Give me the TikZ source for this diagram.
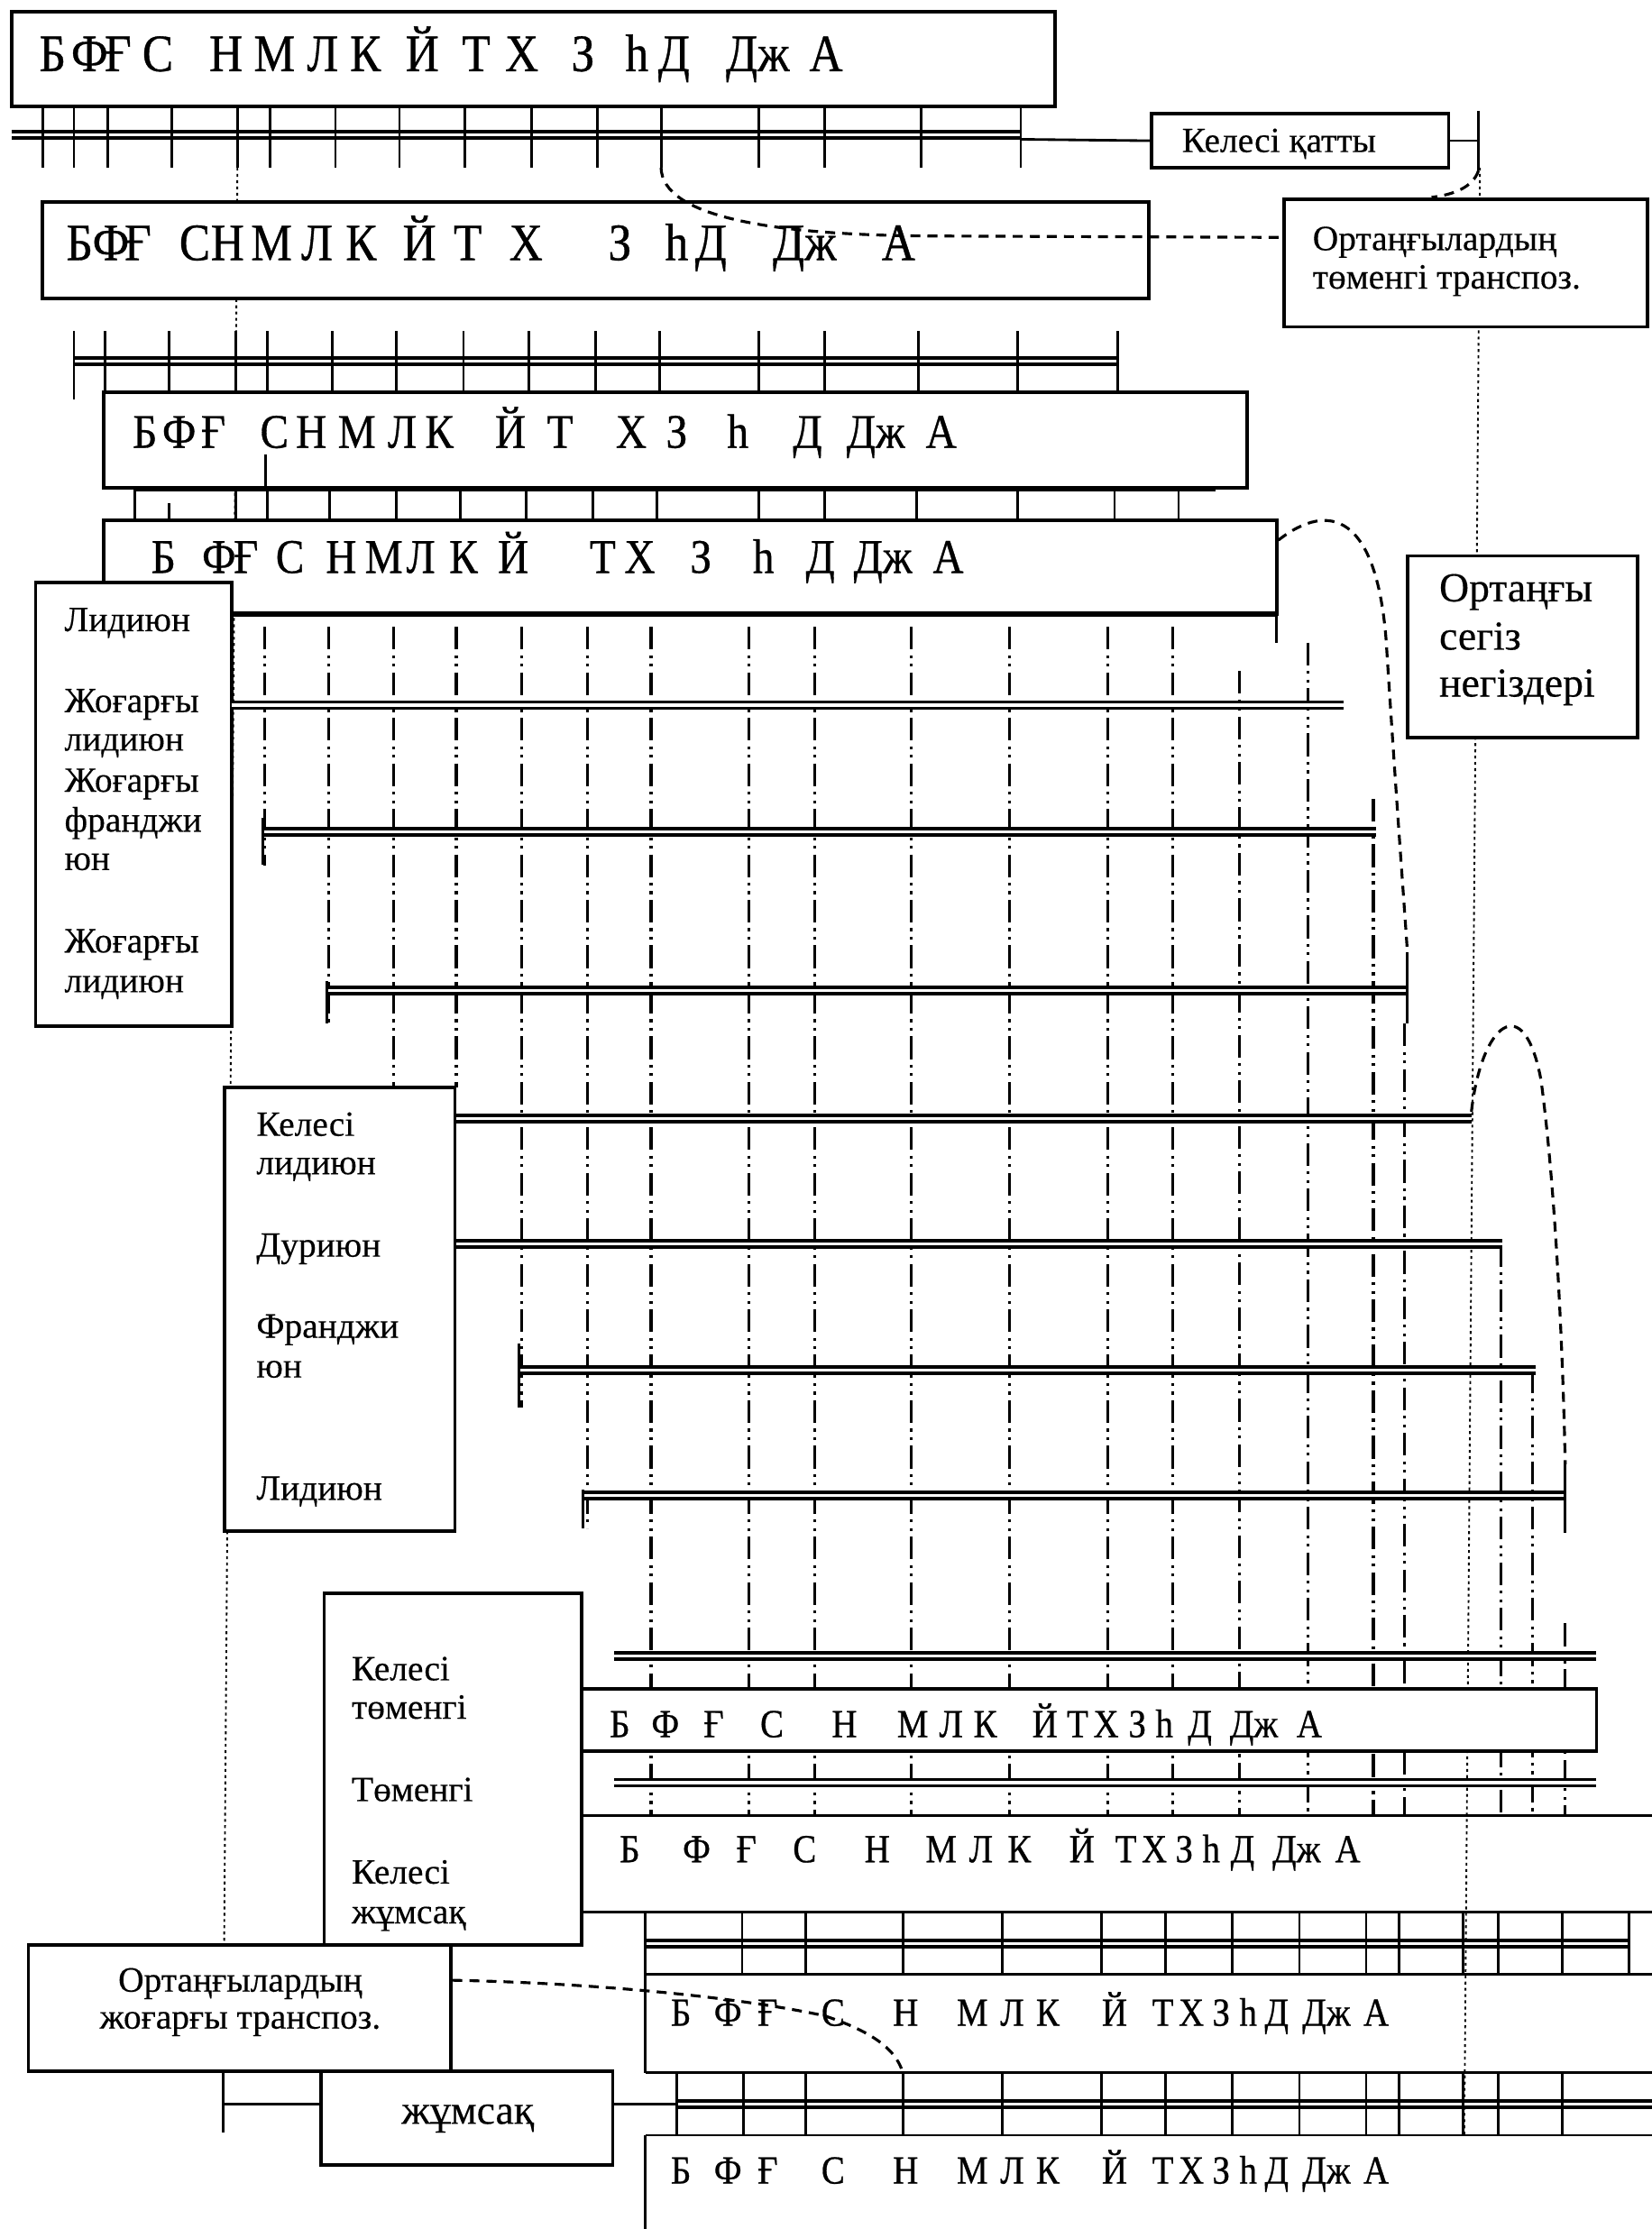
\documentclass[tikz,border=0pt]{standalone}
\usepackage{fontspec}
\setmainfont{Liberation Serif}[FakeBold=0.3]
\newfontfamily\rowfont[FakeStretch=0.88, FakeBold=0.6]{Liberation Serif}
\usetikzlibrary{fit}

\begin{document}
\begin{tikzpicture}[
    x=0.5pt, y=-0.5pt,
    box/.style={draw, line width=1.2pt, fill=white, inner sep=0pt},
    rail/.style={line width=1.2pt, double, double distance=1pt},
    tick/.style={line width=0.9pt},
    thickedge/.style={line width=2pt},
    column/.style={line width=1pt, dash pattern=on 8pt off 2pt on 1pt off 2pt on 1pt off 2pt},
    guide/.style={line width=0.6pt, dash pattern=on 1pt off 1.2pt},
    link/.style={line width=1pt, dash pattern=on 3.5pt off 2.5pt},
    bigrow/.style={font=\rowfont\fontsize{18.5}{20}\selectfont, anchor=base, inner sep=0pt},
    midrow/.style={font=\rowfont\fontsize{17}{18}\selectfont, anchor=base, inner sep=0pt},
    lowrow/.style={font=\rowfont\fontsize{14}{16}\selectfont, anchor=base, inner sep=0pt},
    lbl/.style={font=\fontsize{12.5}{15}\selectfont, anchor=base west, inner sep=0pt},
    biglbl/.style={font=\fontsize{14.5}{17}\selectfont, anchor=base west, inner sep=0pt}
]
\useasboundingbox (0,0) rectangle (1162,1568);

% --- Dotted guide lines (behind everything) ---
\draw[guide] (167,118) -- (157,1457);
\draw[guide] (1041,118) -- (1030,1502);

% --- Dash-dot columns ---
\foreach \cx/\ct/\cb in {186/441/609, 231/441/720, 277/441/765, 321/441/765, 367/441/990,
    413/441/1075, 458/441/1277, 527/441/1277, 573/441/1277, 641/441/1277, 710/441/1277,
    779/441/1277, 825/441/1277, 872/472/1277, 920/452/1277, 966/562/1277, 988/720/1277,
    1056/875/1277, 1078/964/1277, 1101/1142/1277}
  \draw[column] (\cx,\ct) -- (\cx,\cb);

% --- Row 1 ---
\node[box, fit={(8,8) (742,75)}] (row1) {};
\foreach \lx/\lt [count=\i] in {37/Б, 63/Ф, 83/Ғ, 111/С, 159/Н, 193/М, 227/Л, 257/К, 297/Й,
    335/Т, 367/Х, 410/З, 448/һ, 474/Д, 533/Дж, 581/А}
  \node[bigrow] (ra\i) at (\lx,50) {\lt};
\draw[rail] (8,95) -- (718,95);
\foreach \tx in {30,52,76,121,167,190,236,281,327,374,420,465,534,580,648,718}
  \draw[tick] (\tx,75) -- (\tx,118);

\node[box, fit={(810,80) (1019,118)}] (hard) {};
\node[lbl] (hardtxt) at (831,107) {Келесі қатты};
\draw[tick] (718,98) -- (hard.west);
\draw[tick] (hard.east) -- (1040,99);
\draw[tick] (1040,78) -- (1040,120);

% --- Row 2 ---
\node[box, fit={(30,142) (808,210)}] (row2) {};
\foreach \lx/\lt [count=\i] in {56/Б, 78/Ф, 97/Ғ, 137/С, 160/Н, 191/М, 223/Л, 254/К, 295/Й,
    329/Т, 370/Х, 436/З, 476/һ, 500/Д, 566/Дж, 632/А}
  \node[bigrow] (rb\i) at (\lx,183) {\lt};

\node[box, fit={(903,140) (1159,230)}] (lowtrans) {};
\node[lbl] (lowtrans1) at (923,176) {Ортаңғылардың};
\node[lbl] (lowtrans2) at (923,203) {төменгі транспоз.};

\coordinate (bend) at (465,118);
\draw[link] (bend) .. controls (466,152) and (540,165) .. (650,166) -- ([yshift=9pt]lowtrans.west);
\draw[link] (1040,120) .. controls (1036,132) and (1022,137) .. ([xshift=-12pt]lowtrans.north);

% --- Row 3 ---
\draw[rail] (52,254) -- (786,254);
\draw[tick] (52,233) -- (52,281);
\foreach \tx in {74,119,166,188,234,279,326,372,419,464,534,580,646,716,786}
  \draw[tick] (\tx,233) -- (\tx,276);
\node[box, fit={(73,276) (877,343)}] (row3) {};
\foreach \lx/\lt [count=\i] in {102/Б, 126/Ф, 150/Ғ, 193/С, 219/Н, 251/М, 283/Л, 309/К, 359/Й,
    394/Т, 444/Х, 476/З, 519/һ, 568/Д, 616/Дж, 662/А}
  \node[midrow] (rc\i) at (\lx,315) {\lt};
\draw[tick] (187,320) -- (187,343);
\draw[thickedge] (95,344) -- (855,344);

% --- Row 4 ---
\foreach \tx in {95,166,188,232,279,324,370,417,462,534,580,645,716,784,829}
  \draw[tick] (\tx,344) -- (\tx,366);
\draw[tick] (119,354) -- (119,366);
\node[box, fit={(73,366) (898,432)}] (row4) {};
\foreach \lx/\lt [count=\i] in {115/Б, 154/Ф, 173/Ғ, 204/С, 240/Н, 270/М, 296/Л, 326/К, 361/Й,
    424/Т, 450/Х, 493/З, 537/һ, 577/Д, 621/Дж, 667/А}
  \node[midrow] (rd\i) at (\lx,403) {\lt};
\draw[thickedge] (163,432) -- (898,432);
\draw[tick] (898,432) -- (898,452);

\node[box, fit={(990,391) (1152,519)}] (eight) {};
\node[biglbl] (eight1) at (1012,423) {Ортаңғы};
\node[biglbl] (eight2) at (1012,457) {сегіз};
\node[biglbl] (eight3) at (1012,490) {негіздері};

% --- Upper stair ---
\node[box, fit={(25,410) (163,722)}] (upper) {};
\foreach \ly/\lt [count=\i] in {444/Лидиюн, 501/Жоғарғы, 528/лидиюн, 557/Жоғарғы,
    585/франджи, 612/юн, 670/Жоғарғы, 698/лидиюн}
  \node[lbl] (up\i) at (45,\ly) {\lt};
\draw[rail] (163,496) -- (945,496);
\draw[rail] (185,585) -- (968,585);
\draw[rail] (230,697) -- (990,697);
\draw[tick] (185,575) -- (185,608);
\draw[tick] (230,690) -- (230,720);
\draw[tick] (990,670) -- (990,720);
\draw[link] ([yshift=9.5pt]row4.east) .. controls (935,352) and (968,362) .. (975,450)
    .. controls (982,560) and (988,640) .. (990,670);

% --- Lower stair ---
\node[box, fit={(158,765) (320,1077)}] (lower) {};
\foreach \ly/\lt [count=\i] in {799/Келесі, 826/лидиюн, 884/Дуриюн, 941/Франджи, 969/юн, 1055/Лидиюн}
  \node[lbl] (lo\i) at (180,\ly) {\lt};
\draw[rail] (lower.east |- 0,787) -- (1035,787);
\draw[rail] (lower.east |- 0,875) -- (1057,875);
\draw[rail] (365,964) -- (1080,964);
\draw[rail] (410,1052) -- (1101,1052);
\draw[tick] (365,945) -- (365,990);
\draw[tick] (410,1048) -- (410,1075);
\draw[tick] (1101,1028) -- (1101,1078);
\draw[link] (1035,782) .. controls (1042,720) and (1072,695) .. (1084,760)
    .. controls (1096,850) and (1100,980) .. (1101,1030);

% --- Bottom rows ---
\node[box, fit={(228,1121) (409,1368)}] (soft) {};
\foreach \ly/\lt [count=\i] in {1182/Келесі, 1209/төменгі, 1267/Төменгі, 1325/Келесі, 1353/жұмсақ}
  \node[lbl] (so\i) at (247,\ly) {\lt};
\draw[rail] (432,1165) -- (1123,1165);
\draw[rail] (432,1254) -- (1123,1254);
\node[box, fit={(409,1188) (1123,1232)}] (rowe) {};
\foreach \lx/\lt [count=\i] in {436/Б, 468/Ф, 502/Ғ, 543/С, 594/Н, 642/М, 669/Л, 693/К, 735/Й,
    758/Т, 778/Х, 800/З, 819/һ, 844/Д, 882/Дж, 921/А}
  \node[lowrow] (re\i) at (\lx,1222) {\lt};

\draw[tick] (soft.east |- 0,1277) -- (1162,1277);
\foreach \lx/\lt [count=\i] in {443/Б, 490/Ф, 525/Ғ, 566/С, 617/Н, 662/М, 690/Л, 717/К, 761/Й,
    792/Т, 812/Х, 833/З, 852/һ, 874/Д, 912/Дж, 948/А}
  \node[lowrow] (rf\i) at (\lx,1310) {\lt};

% grid 1
\draw[tick] (soft.east |- 0,1345) -- (1162,1345);
\draw[rail] (454,1367) -- (1146,1367);
\draw[tick] (454,1389) -- (1162,1389);
\foreach \tx in {454,522,567,635,705,775,820,867,914,961,984,1029,1054,1099,1146}
  \draw[tick] (\tx,1345) -- (\tx,1389);
\draw[tick] (454,1389) -- (454,1458);
\foreach \lx/\lt [count=\i] in {479/Б, 512/Ф, 540/Ғ, 586/С, 637/Н, 684/М, 712/Л, 737/К, 784/Й,
    818/Т, 838/Х, 859/З, 878/һ, 898/Д, 933/Дж, 968/А}
  \node[lowrow] (rg\i) at (\lx,1425) {\lt};

% grid 2
\draw[tick] (454,1458) -- (1162,1458);
\draw[rail] (476,1480) -- (1162,1480);
\draw[tick] (454,1502) -- (1162,1502);
\foreach \tx in {476,523,567,635,705,775,820,867,914,961,984,1029,1054,1099}
  \draw[tick] (\tx,1458) -- (\tx,1502);
\draw[tick] (454,1502) -- (454,1568);
\foreach \lx/\lt [count=\i] in {479/Б, 512/Ф, 540/Ғ, 586/С, 637/Н, 684/М, 712/Л, 737/К, 784/Й,
    818/Т, 838/Х, 859/З, 878/һ, 898/Д, 933/Дж, 968/А}
  \node[lowrow] (rh\i) at (\lx,1536) {\lt};

% --- Bottom labels ---
\node[box, fit={(20,1368) (317,1457)}] (hightrans) {};
\node[lbl, anchor=base] (hightrans1) at (169,1401) {Ортаңғылардың};
\node[lbl, anchor=base] (hightrans2) at (169,1427) {жоғарғы транспоз.};
\node[box, fit={(226,1457) (431,1523)}] (softbox) {};
\node[biglbl, anchor=base] (softtxt) at (329,1494) {жұмсақ};
\draw[tick] (157,1457) -- (157,1500);
\draw[tick] (157,1480) -- (softbox.west |- 0,1480);
\draw[tick] (softbox.east |- 0,1480) -- (476,1480);
\draw[link] ([yshift=9.75pt]hightrans.east) .. controls (420,1395) and (520,1405) .. (580,1418)
    .. controls (610,1428) and (630,1440) .. (635,1458);

\end{tikzpicture}
\end{document}
